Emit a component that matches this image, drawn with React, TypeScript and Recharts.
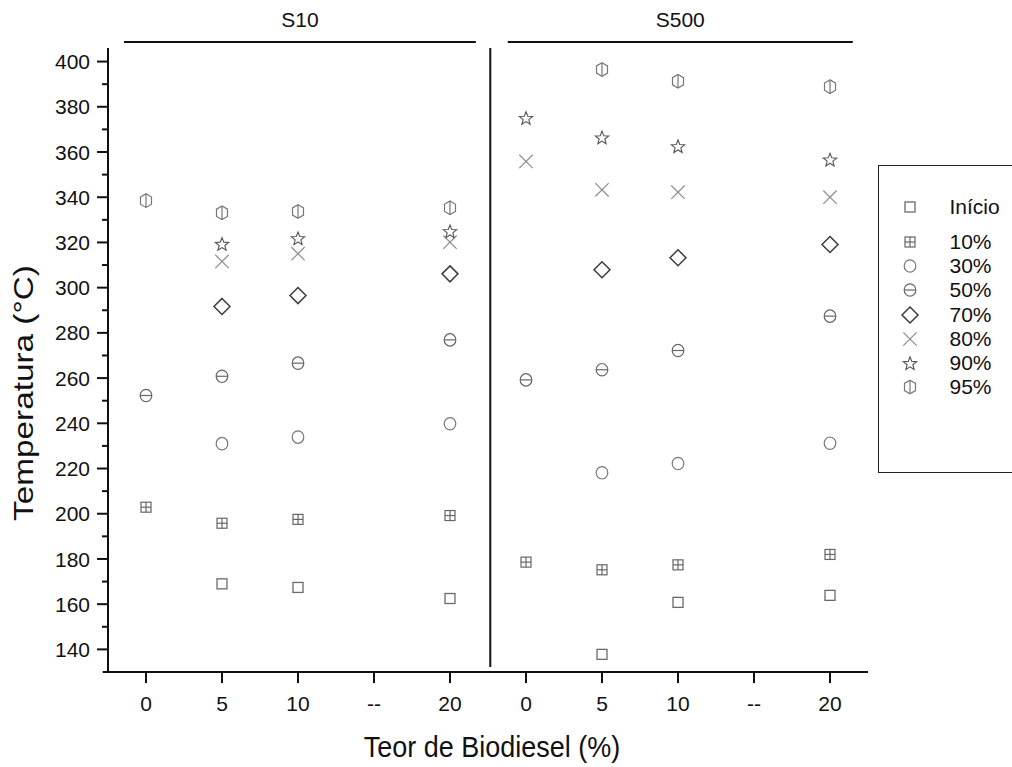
import React from "react";
import { ScatterChart, Scatter, XAxis, YAxis, ReferenceLine, Legend, Customized } from "recharts";

// x positions 0..9, two groups (S10 | S500)
const categories = ["0", "5", "10", "--", "20", "0", "5", "10", "--", "20"];
const yTicks = [140, 150, 160, 170, 180, 190, 200, 210, 220, 230, 240, 250, 260, 270, 280, 290, 300, 310, 320, 330, 340, 350, 360, 370, 380, 390, 400];

const inicio = [null, 169, 167.4, null, 162.5, null, 137.8, 160.8, null, 163.9];
const p10 = [202.9, 195.8, 197.5, null, 199.2, 178.6, 175.2, 177.4, null, 182];
const p30 = [null, 231, 233.9, null, 239.8, null, 218.1, 222.2, null, 231.2];
const p50 = [252.3, 260.8, 266.6, null, 276.9, 259.2, 263.7, 272.2, null, 287.4];
const p70 = [null, 291.7, 296.5, null, 306.1, null, 307.9, 313.2, null, 319.1];
const p80 = [null, 311.6, 315, null, 320.1, 355.8, 343.3, 342.2, null, 340];
const p90 = [null, 319.4, 321.9, null, 325, 375.1, 366.5, 362.6, null, 356.7];
const p95 = [338.5, 333.1, 333.7, null, 335.3, null, 396.5, 391.3, null, 388.9];

const series = [
  { name: "Início", values: inicio, kind: "square" },
  { name: "10%", values: p10, kind: "grid" },
  { name: "30%", values: p30, kind: "circle" },
  { name: "50%", values: p50, kind: "circleLine" },
  { name: "70%", values: p70, kind: "diamond" },
  { name: "80%", values: p80, kind: "cross" },
  { name: "90%", values: p90, kind: "star" },
  { name: "95%", values: p95, kind: "hex" },
];

const FONT = "'Liberation Sans', Arial, sans-serif";

function toPoints(values: (number | null)[]) {
  return values
    .map((v, i) => ({ x: i, y: v }))
    .filter((p) => p.y !== null);
}

function starPoints(cx: number, cy: number, R: number, r: number) {
  const pts: string[] = [];
  for (let k = 0; k < 10; k++) {
    const a = ((-90 + k * 36) * Math.PI) / 180;
    const rad = k % 2 === 0 ? R : r;
    pts.push(`${cx + rad * Math.cos(a)},${cy + rad * Math.sin(a)}`);
  }
  return pts.join(" ");
}

function Marker({ kind, cx, cy }: { kind: string; cx: number; cy: number }) {
  if (cx == null || cy == null) return null;
  switch (kind) {
    case "square":
      return <rect x={cx - 5} y={cy - 5} width={10} height={10} fill="none" stroke="#6a6a6a" strokeWidth={1.3} />;
    case "grid":
      return (
        <g fill="none" stroke="#666" strokeWidth={1.2}>
          <rect x={cx - 5} y={cy - 5} width={10} height={10} />
          <line x1={cx} x2={cx} y1={cy - 5} y2={cy + 5} />
          <line x1={cx - 5} x2={cx + 5} y1={cy} y2={cy} />
        </g>
      );
    case "circle":
      return <ellipse cx={cx} cy={cy} rx={5.8} ry={6.2} fill="none" stroke="#777" strokeWidth={1.2} />;
    case "circleLine":
      return (
        <g fill="none" stroke="#666" strokeWidth={1.2}>
          <ellipse cx={cx} cy={cy} rx={5.8} ry={6.2} />
          <line x1={cx - 5.8} x2={cx + 5.8} y1={cy} y2={cy} />
        </g>
      );
    case "diamond":
      return (
        <polygon
          points={`${cx},${cy - 8} ${cx + 8},${cy} ${cx},${cy + 8} ${cx - 8},${cy}`}
          fill="none"
          stroke="#3c3c3c"
          strokeWidth={1.5}
        />
      );
    case "cross":
      return (
        <g stroke="#8c8c8c" strokeWidth={1.2}>
          <line x1={cx - 6.7} x2={cx + 6.7} y1={cy - 6.7} y2={cy + 6.7} />
          <line x1={cx - 6.7} x2={cx + 6.7} y1={cy + 6.7} y2={cy - 6.7} />
        </g>
      );
    case "star":
      return <polygon points={starPoints(cx, cy + 0.8, 7, 3)} fill="none" stroke="#555" strokeWidth={1.1} />;
    case "hex":
      return (
        <g fill="none" stroke="#777" strokeWidth={1.2}>
          <polygon
            points={`${cx},${cy - 6.8} ${cx + 5.5},${cy - 3.6} ${cx + 5.5},${cy + 3.6} ${cx},${cy + 6.8} ${cx - 5.5},${cy + 3.6} ${cx - 5.5},${cy - 3.6}`}
          />
          <line x1={cx} x2={cx} y1={cy - 6.8} y2={cy + 6.8} />
        </g>
      );
    default:
      return null;
  }
}

const YTick = (props: any) => {
  const { x, y, payload } = props;
  const major = payload.value % 20 === 0;
  return (
    <g>
      <line x1={x - (major ? 11 : 6)} x2={x} y1={y} y2={y} stroke="#111" strokeWidth={2} />
      {major && (
        <text x={x - 18} y={y} dy="0.36em" textAnchor="end" fontSize={21} fill="#111" fontFamily={FONT}>
          {payload.value}
        </text>
      )}
    </g>
  );
};

const LegendBox = () => (
  <div
    style={{
      width: 140,
      height: 308,
      boxSizing: "border-box",
      border: "1.5px solid #222",
      borderRight: "none",
      paddingTop: 28.5,
      fontFamily: FONT,
      fontSize: 21,
      color: "#111",
      background: "#fff",
    }}
  >
    {series.map((s, i) => (
      <div
        key={s.name}
        style={{ display: "flex", alignItems: "center", height: i === 0 ? 24 : 24.3, lineHeight: "24px", marginBottom: i === 0 ? 11 : 0 }}
      >
        <svg width={20} height={20} style={{ marginLeft: 20.5, flex: "none" }}>
          <Marker kind={s.kind} cx={10} cy={10} />
        </svg>
        <span style={{ marginLeft: 30 }}>{s.name}</span>
      </div>
    ))}
  </div>
);

const Titles = () => (
  <g fontFamily={FONT} fill="#111">
    <text transform="translate(492,757) scale(1,1.06)" fontSize={27} textAnchor="middle">
      Teor de Biodiesel (%)
    </text>
    <text transform="translate(33,393) rotate(-90) scale(1.19,1)" fontSize={28} textAnchor="middle">
      Temperatura (°C)
    </text>
  </g>
);

export default function App() {
  return (
    <div style={{ position: "absolute", left: 0, top: 0, width: 1012, height: 767, overflow: "hidden", background: "#fff", fontFamily: FONT }}>
      <ScatterChart width={1012} height={767} margin={{ top: 48, right: 144, bottom: 35, left: 48 }}>
        <XAxis
          type="number"
          dataKey="x"
          domain={[-0.5, 9.5]}
          ticks={[0, 1, 2, 3, 4, 5, 6, 7, 8, 9]}
          tickFormatter={(v: number) => categories[v]}
          allowDataOverflow
          height={60}
          axisLine={{ stroke: "#111", strokeWidth: 2 }}
          tickLine={{ stroke: "#111", strokeWidth: 2 }}
          tickSize={11}
          tickMargin={13}
          tick={{ fontSize: 21, fill: "#111", fontFamily: FONT }}
        />
        <YAxis
          type="number"
          dataKey="y"
          domain={[130, 406]}
          ticks={yTicks}
          allowDataOverflow
          width={60}
          axisLine={{ stroke: "#111", strokeWidth: 2 }}
          tickLine={false}
          tickSize={0}
          tickMargin={0}
          tick={<YTick />}
          interval={0}
        />
        <ReferenceLine
          segment={[{ x: -0.57, y: 130 }, { x: -0.5, y: 130 }]}
          stroke="#111"
          strokeWidth={2}
          ifOverflow="visible"
        />
        <ReferenceLine
          segment={[{ x: 4.53, y: 406 }, { x: 4.53, y: 132.2 }]}
          stroke="#111"
          strokeWidth={2}
          ifOverflow="visible"
        />
        <ReferenceLine
          segment={[{ x: -0.29, y: 408.7 }, { x: 4.34, y: 408.7 }]}
          stroke="#111"
          strokeWidth={2}
          ifOverflow="visible"
          label={{ value: "S10", position: "top", offset: 15, fontSize: 21, fill: "#111", fontFamily: FONT }}
        />
        <ReferenceLine
          segment={[{ x: 4.76, y: 408.7 }, { x: 9.3, y: 408.7 }]}
          stroke="#111"
          strokeWidth={2}
          ifOverflow="visible"
          label={{ value: "S500", position: "top", offset: 15, fontSize: 21, fill: "#111", fontFamily: FONT }}
        />
        {series.map((s) => (
          <Scatter
            key={s.name}
            name={s.name}
            data={toPoints(s.values)}
            isAnimationActive={false}
            shape={(p: any) => <Marker kind={s.kind} cx={p.cx} cy={p.cy} />}
          />
        ))}
        <Legend
          layout="vertical"
          align="center"
          verticalAlign="middle"
          wrapperStyle={{ position: "absolute", left: 878, top: 165, width: 140, height: 308 }}
          content={() => <LegendBox />}
        />
        <Customized component={Titles} />
      </ScatterChart>
    </div>
  );
}
